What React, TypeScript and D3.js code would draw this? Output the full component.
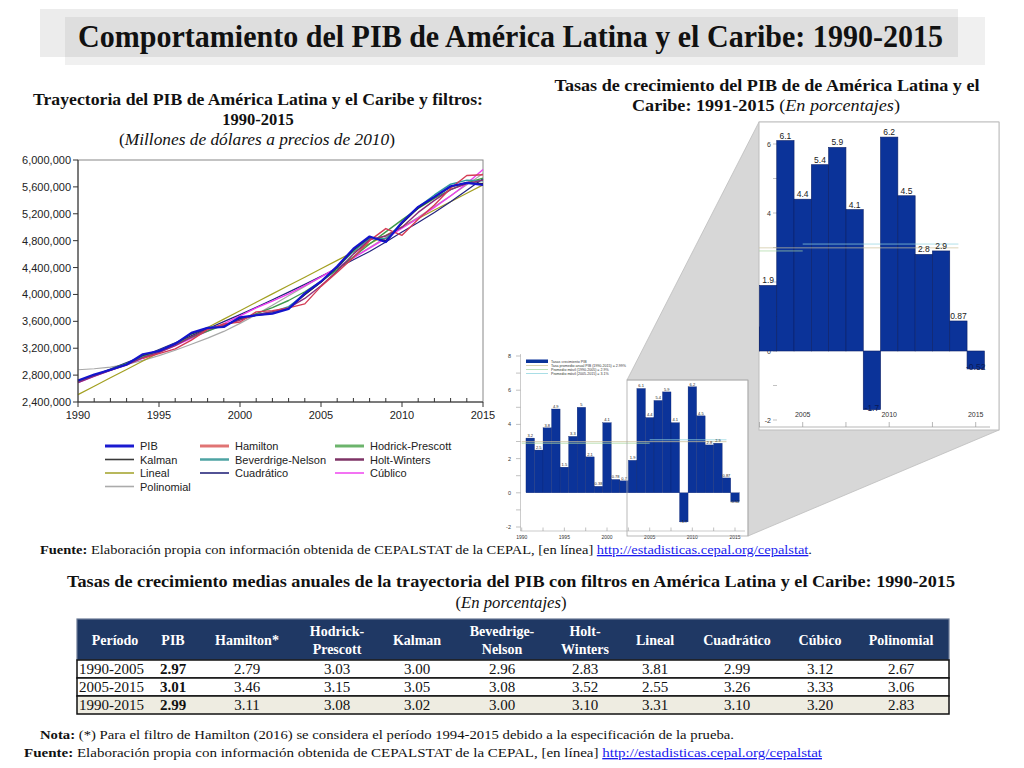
import React from 'react';
import * as d3 from 'd3';

// ---- line chart data (millones de dólares a precios de 2010)
const years = [1990, 1991, 1992, 1993, 1994, 1995, 1996, 1997, 1998, 1999, 2000, 2001, 2002,
  2003, 2004, 2005, 2006, 2007, 2008, 2009, 2010, 2011, 2012, 2013, 2014, 2015];
const pib = [2720000, 2808000, 2880000, 2958000, 3110000, 3158000, 3265000, 3428000, 3502000,
  3516000, 3660000, 3690000, 3715000, 3786000, 4016000, 4193000, 4419000, 4680000, 4862000,
  4779000, 5075000, 5303000, 5452000, 5610000, 5659000, 5630000];
const hamilton = [null, null, null, null, 3050000, 3120000, 3190000, 3320000, 3480000, 3560000,
  3590000, 3740000, 3760000, 3800000, 3860000, 4120000, 4330000, 4550000, 4800000, 4980000,
  4880000, 5120000, 5330000, 5580000, 5770000, 5780000];
const hodrick = [2705000, 2795000, 2885000, 2975000, 3065000, 3160000, 3260000, 3360000, 3455000,
  3545000, 3630000, 3715000, 3805000, 3910000, 4040000, 4195000, 4370000, 4560000, 4750000,
  4930000, 5110000, 5280000, 5430000, 5560000, 5660000, 5730000];
const kalman = [2715000, 2800000, 2878000, 2958000, 3095000, 3160000, 3262000, 3415000, 3500000,
  3525000, 3645000, 3690000, 3720000, 3790000, 3995000, 4180000, 4405000, 4660000, 4850000,
  4800000, 5055000, 5285000, 5445000, 5600000, 5665000, 5650000];
const beveridge = [2700000, 2790000, 2875000, 2960000, 3085000, 3165000, 3270000, 3410000, 3505000,
  3535000, 3640000, 3700000, 3740000, 3820000, 4000000, 4185000, 4400000, 4640000, 4830000,
  4830000, 5060000, 5300000, 5480000, 5640000, 5700000, 5690000];
const holtWinters = [2690000, 2785000, 2870000, 2950000, 3060000, 3140000, 3240000, 3370000, 3480000,
  3540000, 3620000, 3700000, 3745000, 3800000, 3940000, 4130000, 4350000, 4600000, 4815000,
  4870000, 5000000, 5220000, 5400000, 5560000, 5650000, 5700000];
const lineal = [2510000, 2635000, 2760000, 2884000, 3009000, 3134000, 3259000, 3384000, 3508000,
  3633000, 3758000, 3883000, 4008000, 4132000, 4257000, 4382000, 4507000, 4632000, 4756000,
  4881000, 5006000, 5131000, 5256000, 5380000, 5505000, 5630000];
const cuadratico = [2700000, 2795000, 2890000, 2985000, 3080000, 3180000, 3280000, 3385000, 3490000,
  3595000, 3700000, 3810000, 3920000, 4035000, 4150000, 4270000, 4390000, 4515000, 4640000,
  4780000, 4930000, 5070000, 5220000, 5380000, 5550000, 5720000];
const cubico = [2690000, 2780000, 2870000, 2960000, 3050000, 3140000, 3240000, 3345000, 3455000,
  3565000, 3680000, 3800000, 3900000, 4010000, 4130000, 4260000, 4400000, 4545000, 4690000,
  4835000, 4985000, 5135000, 5295000, 5465000, 5650000, 5860000];
const polinomial = [2880000, 2895000, 2920000, 2960000, 3020000, 3090000, 3170000, 3260000, 3350000,
  3450000, 3570000, 3700000, 3840000, 3980000, 4120000, 4260000, 4400000, 4550000, 4700000,
  4850000, 5000000, 5150000, 5310000, 5470000, 5630000, 5800000];
const lineYTicks = [2400000, 2800000, 3200000, 3600000, 4000000, 4400000, 4800000, 5200000, 5600000, 6000000];
const lineXTicks = [1990, 1995, 2000, 2005, 2010, 2015];

// ---- growth rates (%)
const growthYears = [1991, 1992, 1993, 1994, 1995, 1996, 1997, 1998, 1999, 2000, 2001, 2002, 2003,
  2004, 2005, 2006, 2007, 2008, 2009, 2010, 2011, 2012, 2013, 2014, 2015];
const growth = [3.2, 2.5, 3.8, 4.9, 1.5, 3.3, 5, 2.1, 0.38, 4.1, 0.78, 0.7, 1.9, 6.1, 4.4, 5.4, 5.9,
  4.1, -1.7, 6.2, 4.5, 2.8, 2.9, 0.87, -0.52];
const avgNames = ['Tasa promedio anual PIB (1990-2015) = 2.99%', 'Promedio móvil (1990-2005) = 2.9%',
  'Promedio móvil (2005-2015) = 3.1%'];
const avgValues = [2.99, 2.9, 3.1];
const avgFrom = [1990, 1990, 2005];
const avgTo = [2014, 2005, 2014];
const smallYTicks = [-2, 0, 2, 4, 6, 8];
const smallXTicks = [1990, 1995, 2000, 2005, 2010, 2015];
const bigYTicks = [-2, 0, 4, 6];
const bigXTicks = [2005, 2010, 2015];

// ---- table
const tableHeaders = [['Período'], ['PIB'], ['Hamilton*'], ['Hodrick-', 'Prescott'], ['Kalman'],
  ['Bevedrige-', 'Nelson'], ['Holt-', 'Winters'], ['Lineal'], ['Cuadrático'], ['Cúbico'], ['Polinomial']];
const tablePeriods = ['1990-2005', '2005-2015', '1990-2015'];
const tableValues = [
  [2.97, 2.79, 3.03, 3.00, 2.96, 2.83, 3.81, 2.99, 3.12, 2.67],
  [3.01, 3.46, 3.15, 3.05, 3.08, 3.52, 2.55, 3.26, 3.33, 3.06],
  [2.99, 3.11, 3.08, 3.02, 3.00, 3.10, 3.31, 3.10, 3.20, 2.83],
];

const serif = '"Liberation Serif", "Times New Roman", serif';
const sans = '"Liberation Sans", Arial, sans-serif';
const barBlue = '#0b3399';

export default function App() {
  // line chart scales
  const xL = d3.scaleLinear().domain([1990, 2015]).range([78, 483]);
  const yL = d3.scaleLinear().domain([2400000, 6000000]).range([402, 160]);
  const linePath = (vals: (number | null)[]) =>
    d3.line<number | null>()
      .defined(v => v !== null)
      .x((_, i) => xL(years[i]))
      .y(v => yL(v as number))(vals) || '';
  const fmt = d3.format(',');

  const series = [
    { name: 'Polinomial', values: polinomial, color: '#a8a8a8', w: 1.2 },
    { name: 'Lineal', values: lineal, color: '#a3a021', w: 1.2 },
    { name: 'Cuadrático', values: cuadratico, color: '#23237e', w: 1.2 },
    { name: 'Cúblico', values: cubico, color: '#ee3cee', w: 1.4 },
    { name: 'Hodrick-Prescott', values: hodrick, color: '#3c9a4a', w: 1.4 },
    { name: 'Beverdrige-Nelson', values: beveridge, color: '#2f9c9c', w: 1.4 },
    { name: 'Kalman', values: kalman, color: '#2a2a2a', w: 1.3 },
    { name: 'Holt-Winters', values: holtWinters, color: '#8a2d78', w: 1.4 },
    { name: 'Hamilton', values: hamilton, color: '#d43c55', w: 1.4 },
    { name: 'PIB', values: pib, color: '#1414cc', w: 2.2 },
  ];
  const legendOrder = ['PIB', 'Hamilton', 'Hodrick-Prescott', 'Kalman', 'Beverdrige-Nelson',
    'Holt-Winters', 'Lineal', 'Cuadrático', 'Cúblico', 'Polinomial'];
  const legendColor: Record<string, string> = {
    PIB: '#1a1ad0', Hamilton: '#e07474', 'Hodrick-Prescott': '#6cb46c', Kalman: '#3a3a3a',
    'Beverdrige-Nelson': '#4ea3a3', 'Holt-Winters': '#7e3366', Lineal: '#a6a633',
    'Cuadrático': '#26267a', 'Cúblico': '#f050f0', Polinomial: '#ababab',
  };
  const legendW: Record<string, number> = { PIB: 3, Hamilton: 3, 'Hodrick-Prescott': 3, 'Beverdrige-Nelson': 2.5, 'Holt-Winters': 2.5 };
  const legCols = [105, 200, 335];
  const legRows = [446, 459.5, 473, 486.5];

  // small bar chart scales
  const xS = d3.scaleLinear().domain([1990, 2015]).range([521.7, 735]);
  const yS = d3.scaleLinear().domain([-2, 8]).range([527, 356]);
  const bwS = xS(1991) - xS(1990);
  // zoomed bar chart scales
  const xB = d3.scaleLinear().domain([2005, 2015]).range([802.7, 975.7]);
  const yB = d3.scaleLinear().domain([-2, 6]).range([420, 144]);
  const bwB = xB(2006) - xB(2005);
  const avgColors = ['#cdc49c', '#a9d9a4', '#93d6e0'];
  const quarterTicks = d3.range(1990, 2015.1, 2.5);
  const unitTicksS = d3.range(-2, 8.1, 1);
  const unitTicksB = d3.range(-2, 6.1, 1);

  const tableColX = [115, 173, 247, 337, 417, 502, 585, 655, 737, 820, 901];
  const rowTop = [660, 678, 696];
  const rowH = 18;

  return (
    <svg width={1024} height={768} style={{ position: 'absolute', left: 0, top: 0, background: '#fff' }}>
      {/* title band */}
      <rect x={40} y={9} width={918} height={48} fill="rgba(0,0,0,0.075)" />
      <rect x={65} y={17} width={920} height={48} fill="rgba(0,0,0,0.06)" />
      <text x={78} y={47} fontFamily={serif} fontWeight="bold" fontSize={31} textLength={865}
        lengthAdjust="spacingAndGlyphs" fill="#111">
        Comportamiento del PIB de América Latina y el Caribe: 1990-2015
      </text>

      {/* left chart titles */}
      <g fontFamily={serif} fontSize={16.5} fill="#111" textAnchor="middle">
        <text x={258} y={105} fontWeight="bold" textLength={450} lengthAdjust="spacingAndGlyphs">
          Trayectoria del PIB de América Latina y el Caribe y filtros:
        </text>
        <text x={258} y={125} fontWeight="bold">1990-2015</text>
        <text x={257} y={145} textLength={276} lengthAdjust="spacingAndGlyphs">
          (<tspan fontStyle="italic">Millones de dólares a precios de 2010</tspan>)
        </text>
      </g>

      {/* line chart */}
      <g fontFamily={sans}>
        <rect x={78} y={160} width={405} height={242} fill="#fff" stroke="#888" strokeWidth={1} />
        {series.map(s => (
          <path key={s.name} d={linePath(s.values)} fill="none" stroke={s.color} strokeWidth={s.w}
            strokeLinejoin="round" />
        ))}
        <line x1={78} x2={78} y1={160} y2={402} stroke="#333" />
        <line x1={78} x2={483} y1={402} y2={402} stroke="#333" />
        {lineYTicks.map(t => (
          <g key={t}>
            <line x1={73} x2={78} y1={yL(t)} y2={yL(t)} stroke="#333" />
            <text x={71} y={yL(t) + 4} fontSize={11} textAnchor="end" fill="#222">{fmt(t)}</text>
          </g>
        ))}
        {years.map(y => (
          <line key={y} x1={xL(y)} x2={xL(y)} y1={402} y2={lineXTicks.includes(y) ? 407 : 398} stroke="#333" />
        ))}
        {lineXTicks.map(t => (
          <text key={t} x={xL(t)} y={419} fontSize={11} textAnchor="middle" fill="#222">{t}</text>
        ))}
        {legendOrder.map((name, i) => {
          const cx = legCols[i % 3];
          const cy = legRows[Math.floor(i / 3)];
          return (
            <g key={name}>
              <line x1={cx} x2={cx + 29} y1={cy} y2={cy} stroke={legendColor[name]} strokeWidth={legendW[name] || 1.6} />
              <text x={cx + 35} y={cy + 4} fontSize={11} fill="#222">{name}</text>
            </g>
          );
        })}
      </g>

      {/* right chart titles */}
      <g fontFamily={serif} fontSize={16.5} fill="#111" textAnchor="middle">
        <text x={767} y={91} fontWeight="bold" textLength={425} lengthAdjust="spacingAndGlyphs">
          Tasas de crecimiento del PIB de de América Latina y el
        </text>
        <text x={766} y={111} textLength={268} lengthAdjust="spacingAndGlyphs">
          <tspan fontWeight="bold">Caribe: 1991-2015 </tspan>(<tspan fontStyle="italic">En porcentajes</tspan>)
        </text>
      </g>

      {/* small bar chart */}
      <g fontFamily={sans}>
        <rect x={498} y={345} width={250} height={196} fill="#fff" />
        <line x1={520.5} x2={520.5} y1={354} y2={531} stroke="#aaa" strokeWidth={0.6} />
        <line x1={520.5} x2={745} y1={531} y2={531} stroke="#aaa" strokeWidth={0.6} />
        {unitTicksS.map(t => (
          <line key={t} x1={516} x2={520.5} y1={yS(t)} y2={yS(t)} stroke="#999" strokeWidth={0.6} />
        ))}
        {smallYTicks.map(t => (
          <text key={t} x={511} y={yS(t) + 2} fontSize={5.5} textAnchor="end" fill="#333">{t}</text>
        ))}
        {quarterTicks.map(t => (
          <line key={t} x1={xS(t)} x2={xS(t)} y1={531} y2={527.5} stroke="#999" strokeWidth={0.6} />
        ))}
        {smallXTicks.map(t => (
          <text key={t} x={xS(t)} y={539} fontSize={5} textAnchor="middle" fill="#333">{t}</text>
        ))}
        {growthYears.map((yr, i) => {
          const v = growth[i];
          return (
            <rect key={yr} x={xS(yr) - bwS / 2} y={yS(Math.max(0, v))} width={bwS}
              height={Math.abs(yS(v) - yS(0))} fill={barBlue} stroke="#0a1f66" strokeWidth={0.3} />
          );
        })}
        {avgValues.map((v, i) => (
          <line key={i} x1={xS(avgFrom[i])} x2={xS(avgTo[i])} y1={yS(v)} y2={yS(v)}
            stroke={avgColors[i]} strokeWidth={0.9} opacity={0.85} />
        ))}
        {growthYears.map((yr, i) => {
          const v = growth[i];
          return (
            <text key={yr} x={xS(yr)} y={v >= 0 ? yS(v) - 1.2 : yS(v) + 1} fontSize={4} textAnchor="middle" fill="#222">
              {String(v)}
            </text>
          );
        })}
        <rect x={526} y={359.5} width={22} height={3.5} fill={barBlue} />
        <text x={551} y={362.6} fontSize={3.6} fill="#333">Tasas crecimiento PIB</text>
        {avgNames.map((n, i) => (
          <g key={n}>
            <line x1={526} x2={548} y1={365.5 + i * 4} y2={365.5 + i * 4} stroke={avgColors[i]} strokeWidth={0.8} />
            <text x={551} y={366.8 + i * 4} fontSize={3.6} fill="#333">{n}</text>
          </g>
        ))}
      </g>

      {/* projection from zoom box to enlarged panel */}
      <polygon points="627,380 759,122 999,122 999,430 748,536 748,380" fill="#d7d7d7" stroke="#bdbdbd" strokeWidth={0.8} />
      <rect x={627} y={380} width={121} height={156} fill="none" stroke="#a8a8a8" strokeWidth={0.8} />

      {/* enlarged bar chart */}
      <defs>
        <clipPath id="bigClip">
          <rect x={759} y={122} width={240} height={308} />
        </clipPath>
      </defs>
      <rect x={759} y={122} width={240} height={308} fill="#fff" stroke="#bdbdbd" strokeWidth={1} />
      <g clipPath="url(#bigClip)" fontFamily={sans}>
        {unitTicksB.map(t => (
          <line key={t} x1={773} x2={777} y1={yB(t)} y2={yB(t)} stroke="#999" strokeWidth={0.6} />
        ))}
        {bigYTicks.map(t => (
          <text key={t} x={771} y={yB(t) + 2.5} fontSize={7} textAnchor="end" fill="#333">{t}</text>
        ))}
        <line x1={759} x2={990} y1={427} y2={427} stroke="#999" strokeWidth={0.7} />
        {quarterTicks.map(t => (
          <line key={t} x1={xB(t)} x2={xB(t)} y1={427} y2={422} stroke="#999" strokeWidth={0.7} />
        ))}
        {bigXTicks.map(t => (
          <text key={t} x={xB(t)} y={417} fontSize={7} textAnchor="middle" fill="#333">{t}</text>
        ))}
        {growthYears.map((yr, i) => {
          const v = growth[i];
          return (
            <rect key={yr} x={xB(yr) - bwB / 2} y={yB(Math.max(0, v))} width={bwB}
              height={Math.abs(yB(v) - yB(0))} fill={barBlue} stroke="#0a1f66" strokeWidth={0.6} />
          );
        })}
        {avgValues.map((v, i) => (
          <line key={i} x1={xB(avgFrom[i])} x2={xB(avgTo[i])} y1={yB(v)} y2={yB(v)}
            stroke={avgColors[i]} strokeWidth={1} opacity={0.7} />
        ))}
        {growthYears.map((yr, i) => {
          const v = growth[i];
          return (
            <text key={yr} x={xB(yr)} y={v >= 0 ? yB(v) - 2 : yB(v) + 1} fontSize={8.5} textAnchor="middle"
              fill={v >= 0 ? '#222' : '#0a1a55'}>
              {String(v)}
            </text>
          );
        })}
      </g>

      {/* source under charts */}
      <text x={40} y={554} fontFamily={serif} fontSize={13} fill="#111" textLength={772} lengthAdjust="spacingAndGlyphs">
        <tspan fontWeight="bold">Fuente:</tspan> Elaboración propia con información obtenida de CEPALSTAT de la CEPAL, [en línea]{' '}
        <tspan fill="#1a1aee" textDecoration="underline">http://estadisticas.cepal.org/cepalstat</tspan>.
      </text>

      {/* table title */}
      <g fontFamily={serif} fontSize={16.5} fill="#111" textAnchor="middle">
        <text x={511} y={587} fontWeight="bold" textLength={888} lengthAdjust="spacingAndGlyphs">
          Tasas de crecimiento medias anuales de la trayectoria del PIB con filtros en América Latina y el Caribe: 1990-2015
        </text>
        <text x={511} y={608} textLength={111} lengthAdjust="spacingAndGlyphs">
          (<tspan fontStyle="italic">En porcentajes</tspan>)
        </text>
      </g>

      {/* table */}
      <g fontFamily={serif}>
        <rect x={77} y={619} width={872} height={41} fill="#1f3864" stroke="#6b7a96" strokeWidth={1.2} />
        {tableHeaders.map((lines, i) => (
          <text key={i} x={tableColX[i]} y={lines.length === 1 ? 645 : 636} fontSize={14} fontWeight="bold"
            fill="#fff" textAnchor="middle">
            {lines.map((l, j) => (
              <tspan key={j} x={tableColX[i]} dy={j === 0 ? 0 : 18}>{l}</tspan>
            ))}
          </text>
        ))}
        {tablePeriods.map((p, r) => (
          <g key={p}>
            <rect x={77} y={rowTop[r]} width={872} height={rowH} fill={r === 2 ? '#eeece1' : '#fff'}
              stroke="#111" strokeWidth={1.5} />
            <text x={79} y={rowTop[r] + 14} fontSize={15} fill="#111">{p}</text>
            {tableValues[r].map((v, c) => (
              <text key={c} x={tableColX[c + 1]} y={rowTop[r] + 14} fontSize={15} fill="#111"
                textAnchor="middle" fontWeight={c === 0 ? 'bold' : 'normal'}>
                {d3.format('.2f')(v)}
              </text>
            ))}
          </g>
        ))}
      </g>

      {/* notes */}
      <text x={40} y={739} fontFamily={serif} fontSize={13.5} fill="#111" textLength={694} lengthAdjust="spacingAndGlyphs">
        <tspan fontWeight="bold">Nota:</tspan> (*) Para el filtro de Hamilton (2016) se considera el período 1994-2015 debido a la especificación de la prueba.
      </text>
      <text x={24} y={757} fontFamily={serif} fontSize={13.5} fill="#111" textLength={798} lengthAdjust="spacingAndGlyphs">
        <tspan fontWeight="bold">Fuente:</tspan> Elaboración propia con información obtenida de CEPALSTAT de la CEPAL, [en línea]{' '}
        <tspan fill="#1a1aee" textDecoration="underline">http://estadisticas.cepal.org/cepalstat</tspan>
      </text>
    </svg>
  );
}
